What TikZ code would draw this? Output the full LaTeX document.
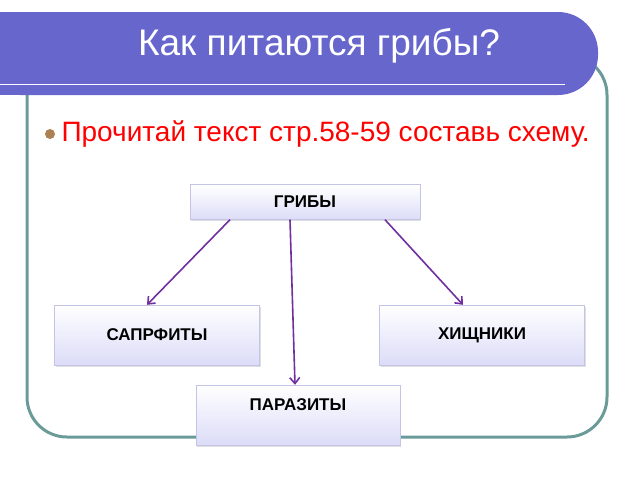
\documentclass[tikz,border=0pt]{standalone}
\usepackage{fontspec}
\setmainfont{Liberation Sans}
\usetikzlibrary{arrows.meta,shadows}
\definecolor{titleblue}{HTML}{6666CC}
\definecolor{frameteal}{HTML}{6A9B98}
\definecolor{boxline}{HTML}{C4C4E6}
\definecolor{boxbottom}{HTML}{DCDCF8}
\definecolor{arrowpurple}{HTML}{7030A0}
\tikzset{
    box/.style={draw=boxline,top color=white,bottom color=boxbottom,
        drop shadow={shadow xshift=1pt,shadow yshift=-1.5pt,opacity=0.25},
        font=\fontsize{17}{19}\selectfont\bfseries,inner sep=0pt},
    link/.style={draw=arrowpurple,line width=1.6pt,-{Straight Barb[length=6pt,width=10pt]}}
}
\begin{document}
\begin{tikzpicture}[x=1pt,y=-1pt]
    \useasboundingbox (0,0) rectangle (640,480);

    % frame and title bar
    \draw[frameteal,line width=3pt,rounded corners=40pt] (27,55) rectangle (607,437);
    \fill[titleblue,rounded corners=40pt] (-20,12) rectangle (598,95);
    \fill[titleblue] (0,12) rectangle (60,95);
    \draw[white,line width=1pt] (0,84) -- (565,84);
    \node[white,font=\fontsize{37}{40}\selectfont] (title) at (319,46) {Как питаются грибы?};

    % bullet line
    \fill[brown!70!gray] (50,134) circle (5pt);
    \node[anchor=west,red,font=\fontsize{28}{30}\selectfont] (task) at (58,134) {Прочитай текст стр.58-59 составь схему.};

    % boxes
    \node[box,minimum width=230pt,minimum height=35pt] (mush) at (305,202) {ГРИБЫ};
    \node[box,minimum width=205pt,minimum height=60pt] (sapr) at (157,335) {САПРФИТЫ};
    \node[box,minimum width=205pt,minimum height=60pt] (pred) at (482,335) {ХИЩНИКИ};
    \node[box,minimum width=204pt,minimum height=60pt,text depth=20pt] (para) at (298,415) {ПАРАЗИТЫ};

    % arrows
    \draw[link] (mush.south -| 230,0) -- (sapr.north -| 147,0);
    \draw[link] (mush.south -| 290,0) -- (para.north -| 295,0);
    \draw[link] (mush.south -| 385,0) -- (pred.north -| 463,0);
\end{tikzpicture}
\end{document}
